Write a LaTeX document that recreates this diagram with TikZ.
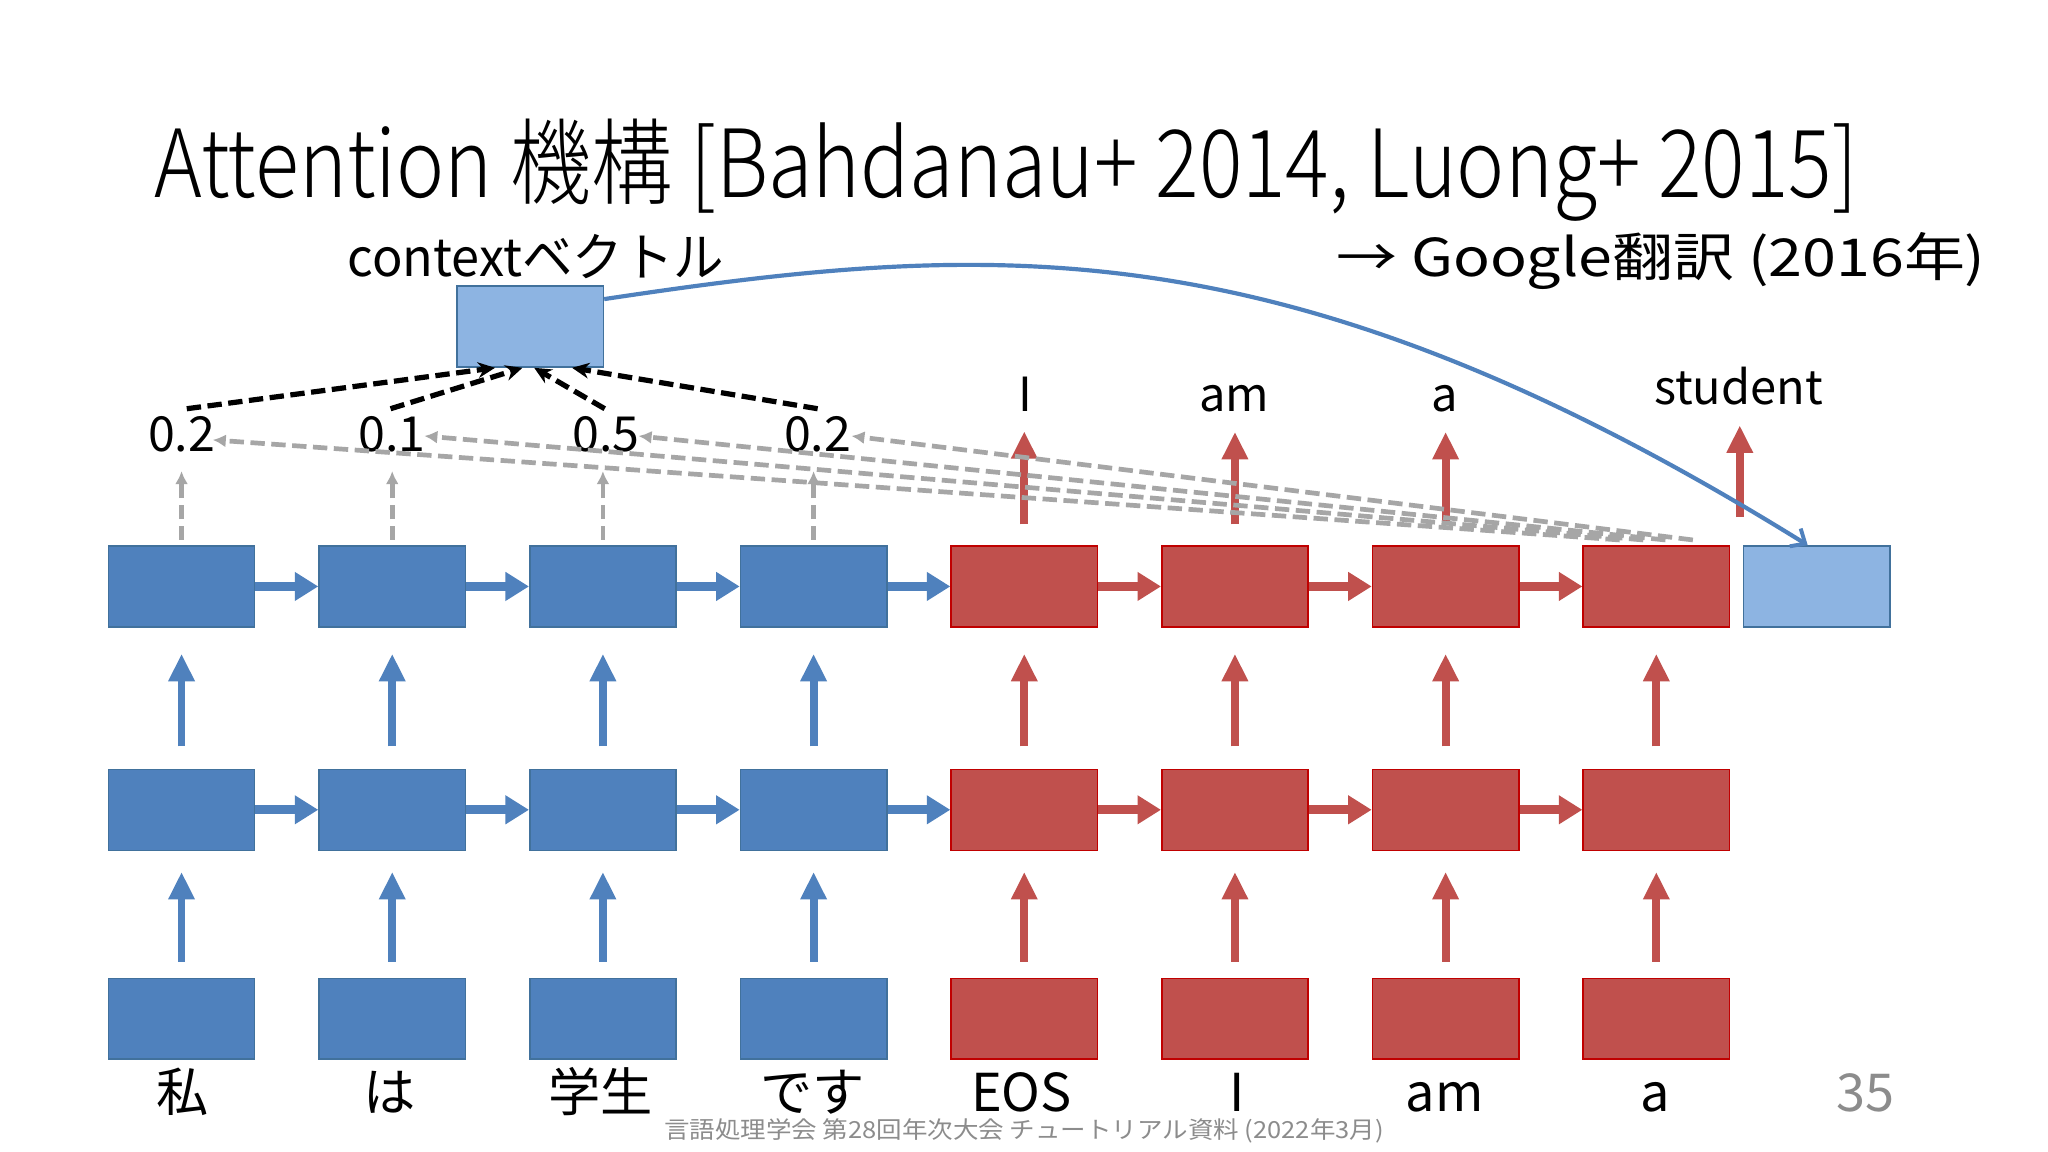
\documentclass[tikz,border=0pt]{standalone}
\usepackage{graphicx}
\usepackage{fontspec}
\setmainfont{Noto Sans CJK JP}
\newfontfamily\lightfont{Noto Sans CJK JP Light}
\usetikzlibrary{arrows.meta}
\definecolor{encblue}{HTML}{4F81BD}
\definecolor{encline}{HTML}{41719C}
\definecolor{decred}{HTML}{C0504D}
\definecolor{decline}{HTML}{C00000}
\definecolor{ctxblue}{HTML}{8DB4E2}
\definecolor{attgray}{HTML}{A6A6A6}
\definecolor{footgray}{HTML}{8C8C8C}
\begin{document}
\begin{tikzpicture}[x=1pt,y=-1pt,
  box/.style={minimum width=112pt,minimum height=62pt,inner sep=0pt,line width=1.2pt},
  enc/.style={box,fill=encblue,draw=encline},
  dec/.style={box,fill=decred,draw=decline},
  ctxbox/.style={box,fill=ctxblue,draw=encline},
  txt/.style={inner sep=0pt,anchor=base},
  biglbl/.style={txt,font=\fontsize{40}{44}\selectfont},
  outlbl/.style={txt,font=\fontsize{36}{40}\selectfont},
  numlbl/.style={txt,font=\fontsize{37}{40}\selectfont},
  harr/.style={line width=7pt,-{Triangle[length=18pt,width=21pt]}},
  varr/.style={line width=6pt,-{Triangle[length=21pt,width=19pt]}},
  grayarr/.style={attgray,line width=3.6pt,dash pattern=on 11pt off 5pt,-{Latex[length=10pt,width=10pt]}},
  blackarr/.style={black,line width=4pt,dash pattern=on 11pt off 5pt,-{Stealth[length=13pt,width=12pt]}},
  curvearr/.style={encblue,line width=3.2pt,-{Straight Barb[length=9pt,width=16pt,line width=3pt]}}
]
\useasboundingbox (0,0) rectangle (1568,882);
\fill[white] (0,0) rectangle (1568,882);

% title and headings
\node[txt,anchor=base west] (title) at (118,151)
  {\resizebox{1304pt}{\height}{\lightfont\fontsize{72}{80}\selectfont Attention 機構 [Bahdanau+ 2014, Luong+ 2015]}};
\node[txt,anchor=base west] (ctxlabel) at (266,212)
  {\resizebox{288pt}{\height}{\fontsize{40}{44}\selectfont contextベクトル}};
\node[txt,anchor=base west] (google) at (1023,212)
  {\resizebox{497pt}{\height}{\fontsize{40}{44}\selectfont → Google翻訳 (2016年)}};

% boxes
\foreach \i in {1,...,4} {
  \node[enc] (t\i) at ({139+161.3*(\i-1)},449) {};
  \node[enc] (m\i) at ({139+161.3*(\i-1)},620) {};
  \node[enc] (b\i) at ({139+161.3*(\i-1)},780) {};
}
\foreach \i in {5,...,8} {
  \node[dec] (t\i) at ({139+161.3*(\i-1)},449) {};
  \node[dec] (m\i) at ({139+161.3*(\i-1)},620) {};
  \node[dec] (b\i) at ({139+161.3*(\i-1)},780) {};
}
\node[ctxbox] (c2) at (1391,449) {};
\node[ctxbox] (ctx) at (406,250) {};

% horizontal recurrent arrows
\foreach \i/\j/\c in {1/2/encblue,2/3/encblue,3/4/encblue,4/5/encblue,5/6/decred,6/7/decred,7/8/decred} {
  \draw[harr,\c] (t\i.east) -- (t\j.west);
  \draw[harr,\c] (m\i.east) -- (m\j.west);
}

% vertical arrows between rows
\foreach \i/\c in {1/encblue,2/encblue,3/encblue,4/encblue,5/decred,6/decred,7/decred,8/decred} {
  \draw[varr,\c,shorten <=12pt,shorten >=16pt] (b\i.north) -- (m\i.south);
  \draw[varr,\c,shorten <=17pt,shorten >=20pt] (m\i.north) -- (t\i.south);
}

% bottom labels
\node[biglbl] (w1) at (140,851) {私};
\node[biglbl] (w2) at (298,851) {は};
\node[biglbl] (w3) at (460,851) {学生};
\node[biglbl] (w4) at (622,851) {です};
\node[biglbl] (w5) at (782,851) {EOS};
\node[biglbl] (w6) at (947,851) {I};
\node[biglbl] (w7) at (1106,851) {am};
\node[biglbl] (w8) at (1267,851) {a};
\node[biglbl,text=footgray] (pg) at (1428,851) {35};
\node[txt,text=footgray,font=\fontsize{18}{20}\selectfont] (foot) at (784,872)
  {\resizebox{551pt}{\height}{言語処理学会 第28回年次大会 チュートリアル資料 (2022年3月)}};

% output words
\node[outlbl] (o1) at (785,315) {I};
\node[outlbl] (o2) at (945,315) {am};
\node[outlbl] (o3) at (1106,315) {a};
\node[outlbl] (o4) at (1331,310) {student};
\coordinate (s0) at (1332,396);
\draw[varr,decred,shorten <=16pt,shorten >=15pt] (t5.north) -- (t5.north |- o1.south);
\draw[varr,decred,shorten <=16pt,shorten >=15pt] (t6.north) -- (t6.north |- o2.south);
\draw[varr,decred,shorten <=16pt,shorten >=15pt] (t7.north) -- (t7.north |- o3.south);
\draw[varr,decred,shorten >=15pt] (s0) -- (s0 |- o4.south);

% attention weights
\node[numlbl] (n1) at (139,346) {0.2};
\node[numlbl] (n2) at (300,346) {0.1};
\node[numlbl] (n3) at (464,346) {0.5};
\node[numlbl] (n4) at (626,346) {0.2};

% gray dashed: encoder states up to weights
\foreach \i in {1,...,4} {
  \draw[grayarr,shorten <=4pt,shorten >=14pt] (t\i.north) -- (t\i.north |- n\i.south);
}
% gray dashed: decoder state to weights
\draw[grayarr] ([xshift=-28pt,yshift=4pt]t8.north) -- ([xshift=-2pt,yshift=-4pt]n1.east);
\draw[grayarr] ([xshift=-10pt,yshift=4pt]t8.north) -- ([xshift=-1pt,yshift=-1pt]n2.east);
\draw[grayarr] ([xshift=7pt,yshift=4pt]t8.north) -- ([xshift=-1pt,yshift=-1pt]n3.east);
\draw[grayarr] ([xshift=28pt,yshift=4pt]t8.north) -- ([xshift=0pt,yshift=-1pt]n4.east);

% black dashed: weights into context vector
\draw[blackarr] ([xshift=4pt,yshift=6pt]n1.north) -- ([xshift=-27pt]ctx.south);
\draw[blackarr] ([xshift=-1pt,yshift=6pt]n2.north) -- ([xshift=-6pt]ctx.south);
\draw[blackarr] ([xshift=-1pt,yshift=6pt]n3.north) -- ([xshift=3pt]ctx.south);
\draw[blackarr] ([xshift=0pt,yshift=6pt]n4.north) -- ([xshift=32pt]ctx.south);

% context vector to decoder
\draw[curvearr] ([yshift=21pt]ctx.east) .. controls (762,184) and (985,170) .. ([xshift=-7pt]c2.north);
\end{tikzpicture}
\end{document}
